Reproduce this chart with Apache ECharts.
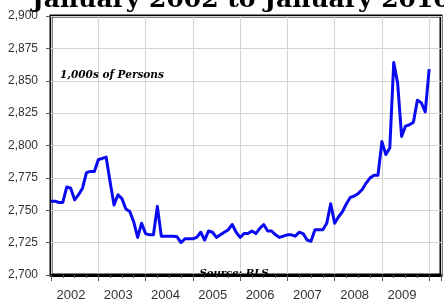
<!DOCTYPE html>
<html>
<head>
<meta charset="utf-8">
<script src="https://cdn.jsdelivr.net/npm/echarts@6/dist/echarts.min.js"></script>
<style>
html,body{margin:0;padding:0;background:#fff;}
#c{width:444px;height:302px;}
</style>
</head>
<body>
<div id="c"></div>
<script>
var titleText = 'January 2002 to January 2010';
var unitText = '1,000s of Persons';
var sourceText = 'Source: BLS';
var startYear = 2002;
// monthly values, Jan 2002 .. Jan 2010 (thousands of persons)
var values = [
  2757, 2757, 2756, 2756, 2768, 2767, 2758, 2762, 2767, 2779, 2780, 2780,
  2789, 2790, 2791, 2772, 2754, 2762, 2759, 2751, 2749, 2741, 2729, 2740,
  2732, 2731, 2731, 2753, 2730, 2730, 2730, 2730, 2729.5, 2725, 2728, 2728,
  2728, 2729, 2733, 2727, 2734, 2733, 2729, 2731, 2733, 2735, 2739, 2733,
  2729, 2732, 2732, 2734, 2732, 2736, 2739, 2734, 2734, 2731, 2729, 2730,
  2731, 2731, 2730, 2733, 2732, 2727, 2726, 2735, 2735, 2735, 2740, 2755,
  2740, 2745, 2749, 2755, 2760, 2761, 2763, 2766, 2771, 2775, 2777, 2777,
  2803, 2793, 2798, 2864, 2848, 2807, 2815, 2816, 2818, 2835, 2833, 2826,
  2859
];
var yMin = 2700, yMax = 2900, yStep = 25;

var seriesData = values.map(function (v, i) { return [i, v]; });

var chart = echarts.init(document.getElementById('c'), null, {renderer: 'canvas'});
chart.setOption({
  animation: false,
  backgroundColor: '#fff',
  grid: {
    left: 51, top: 16, width: 398, height: 263.5,
    show: true, borderColor: '#000', borderWidth: 3, backgroundColor: 'transparent'
  },
  xAxis: {
    type: 'value', min: 0, max: 99, interval: 12,
    axisLine: {show: true, onZero: false, lineStyle: {color: '#000', width: 3}},
    axisTick: {show: true, length: 6, lineStyle: {color: '#555', width: 1}},
    minorTick: {show: true, splitNumber: 4, length: 3, lineStyle: {color: '#555', width: 1}},
    splitLine: {show: true, lineStyle: {color: '#d4d4d4', width: 1}},
    axisLabel: {
      margin: 14, fontSize: 13, color: '#333', fontFamily: 'Liberation Sans, Arial, sans-serif',
      padding: [0, 0, 0, 40],
      formatter: function (v) { return v >= 96 ? '' : String(startYear + Math.round(v / 12)); }
    }
  },
  yAxis: {
    type: 'value', min: yMin, max: yMax, interval: yStep, offset: 7,
    axisLine: {show: false},
    axisTick: {show: true, length: 5, lineStyle: {color: '#555', width: 1}},
    splitLine: {show: true, lineStyle: {color: '#d4d4d4', width: 1}},
    axisLabel: {
      margin: 6, fontSize: 12, color: '#333', fontFamily: 'Liberation Sans, Arial, sans-serif',
      formatter: function (v) { return v.toLocaleString('en-US'); }
    }
  },
  series: [{
    type: 'line', data: seriesData, symbol: 'none', smooth: false,
    lineStyle: {color: '#0a0af0', width: 3, join: 'round'}
  }],
  graphic: [
    {type: 'text', x: 32, y: 0, z: 10,
     style: {text: titleText, font: 'bold 25px "DejaVu Serif"', fill: '#000', verticalAlign: 'middle'}},
    {type: 'text', x: 60, y: 75, z: 10,
     style: {text: unitText, font: 'italic bold 10.5px "DejaVu Serif"', fill: '#000', verticalAlign: 'middle'}},
    {type: 'text', x: 234, y: 273, z: 10,
     style: {text: sourceText, font: 'italic bold 10px "DejaVu Serif"', fill: '#000', align: 'center', verticalAlign: 'middle'}}
  ]
});
</script>
</body>
</html>
